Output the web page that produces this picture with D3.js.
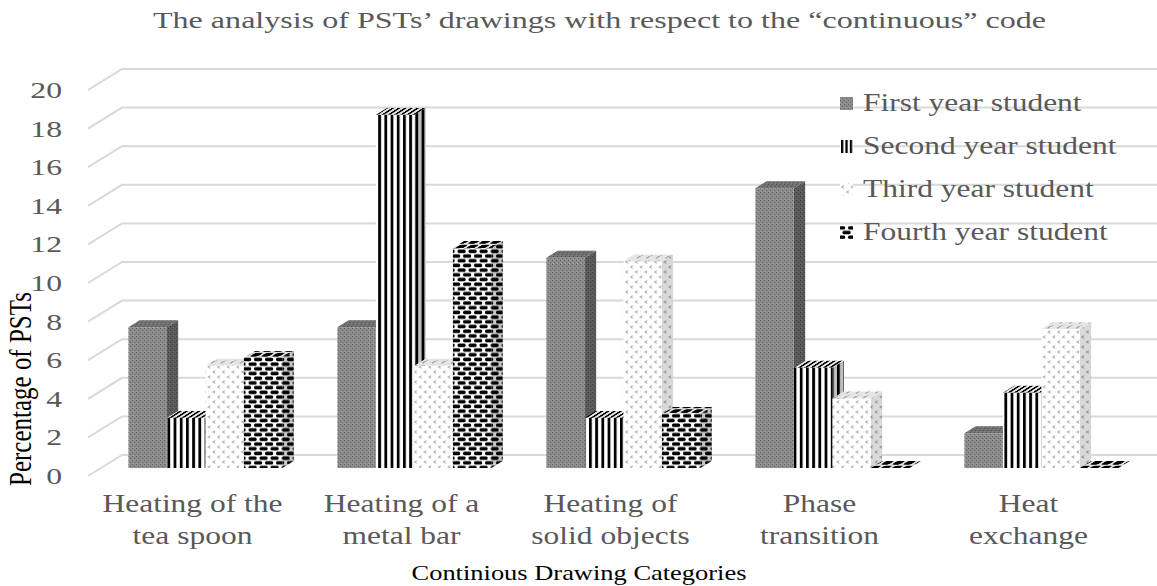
<!DOCTYPE html>
<html>
<head>
<meta charset="utf-8">
<script src="https://cdn.jsdelivr.net/npm/d3@7"></script>
<style>
  body { margin: 0; background: #fff; }
  text { font-family: "Liberation Serif", "Times New Roman", serif; }
</style>
</head>
<body>
<div id="chart"></div>
<script>
// data
var categories = ["Heating of the tea spoon", "Heating of a metal bar", "Heating of solid objects", "Phase transition", "Heat exchange"];
var categoryLines = [["Heating of the", "tea spoon"], ["Heating of a", "metal bar"], ["Heating of", "solid objects"], ["Phase", "transition"], ["Heat", "exchange"]];
var seriesNames = ["First year student", "Second year student", "Third year student", "Fourth year student"];
var firstYear = [7.3, 7.3, 10.9, 14.5, 1.8];
var secondYear = [2.6, 18.3, 2.6, 5.2, 3.9];
var thirdYear = [5.3, 5.3, 10.7, 3.6, 7.2];
var fourthYear = [5.7, 11.4, 2.8, 0, 0];
var yTicks = [0, 2, 4, 6, 8, 10, 12, 14, 16, 18, 20];

var seriesValues = [firstYear, secondYear, thirdYear, fourthYear];

var W = 1157, H = 586;
var DX = 34, DY = 21;       // full floor depth (oblique)
var Z0 = 0.38, Z1 = 0.71;   // depth slot taken by the bars
var textGray = "#595959";
var SX = 1.26;              // horizontal stretch of the lettering

var svg = d3.select("#chart").append("svg").attr("width", W).attr("height", H)
    .attr("font-family", "'Liberation Serif', 'Times New Roman', serif");

var y = d3.scaleLinear().domain([0, 20]).range([476, 90]);
var x = d3.scaleBand().domain(categories).range([88, 1133]).paddingInner(0.263).paddingOuter(0.1315);
var xs = d3.scaleBand().domain(seriesNames).range([0, x.bandwidth()]);

function px(xx, z) { return xx + z * DX; }
function py(v, z) { return y(v) - z * DY; }

// patterns
var defs = svg.append("defs");

function pat(id, w, h, transform) {
    var p = defs.append("pattern").attr("id", id).attr("patternUnits", "userSpaceOnUse")
        .attr("width", w).attr("height", h);
    if (transform) p.attr("patternTransform", transform);
    return p;
}

["pFirst", "pFirstTop"].forEach(function(id, i) {
    var p = pat(id, 4, 4, i ? "skewX(-57)" : null);
    p.append("rect").attr("width", 4).attr("height", 4).attr("fill", "#8c8c8c");
    p.append("rect").attr("x", 0).attr("y", 0).attr("width", 1).attr("height", 1).attr("fill", "#626262");
    p.append("rect").attr("x", 2).attr("y", 2).attr("width", 1).attr("height", 1).attr("fill", "#626262");
    p.append("rect").attr("x", 1).attr("y", 3).attr("width", 1).attr("height", 1).attr("fill", "#a4a4a4");
});

["pSecond", "pSecondTop"].forEach(function(id, i) {
    var p = pat(id, 6.2, 10, i ? "skewX(-57)" : null);
    p.append("rect").attr("width", 6.2).attr("height", 10).attr("fill", "#fff");
    p.append("rect").attr("x", 0).attr("width", 2.8).attr("height", 10).attr("fill", "#000");
});

// narrower stripes for the small legend key
var pl = pat("pSecondKey", 4.4, 10, "translate(841,0)");
pl.append("rect").attr("width", 4.4).attr("height", 10).attr("fill", "#fff");
pl.append("rect").attr("width", 2.3).attr("height", 10).attr("fill", "#000");

["pThird", "pThirdTop"].forEach(function(id, i) {
    var p = pat(id, 9.6, 10, i ? "skewX(-57)" : null);
    p.append("rect").attr("width", 9.6).attr("height", 10).attr("fill", "#fff");
    p.append("path").attr("d", "M4,0.6 L1.8,2 L4,3.4 M8.8,5.6 L6.6,7 L8.8,8.4")
        .attr("fill", "none").attr("stroke", "#a6a6a6").attr("stroke-width", 1);
});

["pFourth", "pFourthTop"].forEach(function(id, i) {
    var p = pat(id, 11, 9.4, i ? "skewX(-57)" : null);
    p.append("rect").attr("width", 11).attr("height", 9.4).attr("fill", "#fff");
    [[1, 0.4], [6.5, 5.1], [-4.5, 5.1]].forEach(function(o) {
        p.append("rect").attr("x", o[0]).attr("y", o[1]).attr("width", 8.2).attr("height", 3.6)
            .attr("rx", 1.6).attr("fill", "#000");
    });
});

var fronts = ["url(#pFirst)", "url(#pSecond)", "url(#pThird)", "url(#pFourth)"];
var tops = ["url(#pFirstTop)", "url(#pSecondTop)", "url(#pThirdTop)", "url(#pFourthTop)"];
var keys = ["url(#pFirst)", "url(#pSecondKey)", "url(#pThird)", "url(#pFourth)"];
var sideShade = [0.35, 0.25, 0.15, 0.22];
var topShade = [0.18, 0.1, 0.1, 0.1];

// gridlines: wall diagonal + back horizontal
svg.append("g").selectAll("path").data(yTicks).enter().append("path")
    .attr("d", function(t) {
        return "M" + 88 + "," + y(t) + "L" + (88 + DX) + "," + (y(t) - DY) + "H" + W;
    })
    .attr("fill", "none").attr("stroke", "#d9d9d9").attr("stroke-width", 2);

// tick labels
svg.append("g").selectAll("text").data(yTicks).enter().append("text")
    .attr("transform", function(t) { return "translate(62," + (y(t) + 8) + ") scale(1.38,1)"; })
    .attr("text-anchor", "end").attr("font-size", 23).attr("fill", textGray)
    .text(function(t) { return t; });

// bars, left to right so the next front hides the previous side
var bars = [];
categories.forEach(function(c, ci) {
    seriesNames.forEach(function(s, si) {
        bars.push({ c: c, s: si, v: seriesValues[si][ci] });
    });
});

var gBars = svg.append("g");
bars.forEach(function(d) {
    var xl = x(d.c) + xs(seriesNames[d.s]);
    var xr = xl + xs.bandwidth();
    var v = d.v;
    var g = gBars.append("g");
    var side = [[px(xr, Z0), py(v, Z0)], [px(xr, Z1), py(v, Z1)], [px(xr, Z1), py(0, Z1)], [px(xr, Z0), py(0, Z0)]];
    var top = [[px(xl, Z0), py(v, Z0)], [px(xr, Z0), py(v, Z0)], [px(xr, Z1), py(v, Z1)], [px(xl, Z1), py(v, Z1)]];
    var pts = function(a) { return a.map(function(p) { return p.join(","); }).join(" "); };
    g.append("polygon").attr("points", pts(side)).attr("fill", fronts[d.s]);
    g.append("polygon").attr("points", pts(side)).attr("fill", "rgba(0,0,0," + sideShade[d.s] + ")");
    g.append("polygon").attr("points", pts(top)).attr("fill", tops[d.s]);
    g.append("polygon").attr("points", pts(top)).attr("fill", "rgba(0,0,0," + topShade[d.s] + ")");
    g.append("rect").attr("x", px(xl, Z0)).attr("y", py(v, Z0))
        .attr("width", xs.bandwidth()).attr("height", py(0, Z0) - py(v, Z0))
        .attr("fill", fronts[d.s]);
});

// category labels
var gx = svg.append("g");
categories.forEach(function(c, i) {
    var cx = x(c) + x.bandwidth() / 2;
    categoryLines[i].forEach(function(line, li) {
        gx.append("text")
            .attr("transform", "translate(" + cx + "," + (512 + li * 32) + ") scale(" + SX + ",1)")
            .attr("text-anchor", "middle").attr("font-size", 25).attr("fill", textGray)
            .text(line);
    });
});

// title
svg.append("text").attr("x", 153).attr("y", 28)
    .attr("textLength", 893).attr("lengthAdjust", "spacingAndGlyphs")
    .attr("font-size", 24).attr("fill", textGray)
    .text("The analysis of PSTs\u2019 drawings with respect to the \u201ccontinuous\u201d code");

// axis titles
svg.append("text")
    .attr("transform", "translate(31,389) rotate(-90) scale(1,1.3)")
    .attr("text-anchor", "middle").attr("font-size", 25).attr("fill", "#000")
    .text("Percentage of PSTs");

svg.append("text")
    .attr("transform", "translate(579,580) scale(" + SX + ",1)")
    .attr("text-anchor", "middle").attr("font-size", 21).attr("fill", "#000")
    .text("Continious Drawing Categories");

// legend
var legendY = [111, 154, 197, 240];
var lg = svg.append("g");
seriesNames.forEach(function(s, i) {
    lg.append("rect").attr("x", 840).attr("y", legendY[i] - 14).attr("width", 13).attr("height", 13)
        .attr("fill", keys[i]);
    lg.append("text")
        .attr("transform", "translate(863," + legendY[i] + ") scale(" + SX + ",1)")
        .attr("font-size", 25).attr("fill", textGray)
        .text(s);
});
</script>
</body>
</html>
